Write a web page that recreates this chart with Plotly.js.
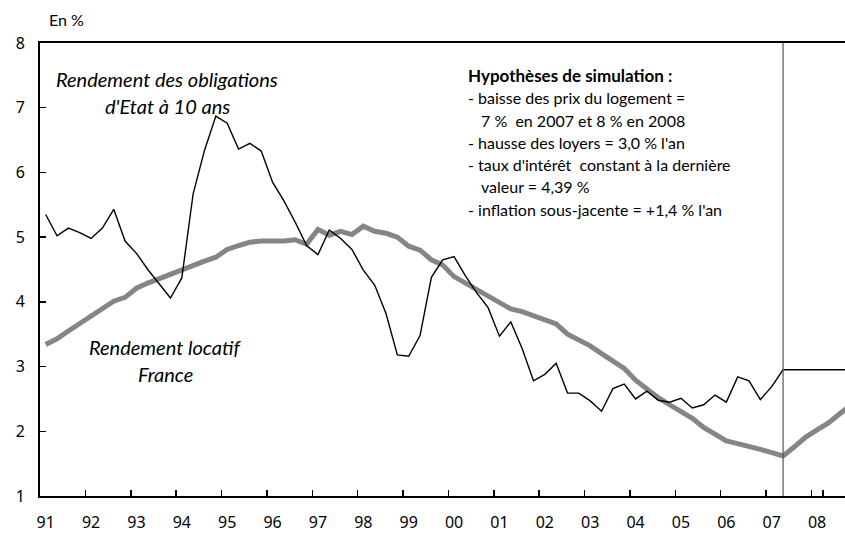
<!DOCTYPE html>
<html>
<head>
<meta charset="utf-8">
<script src="https://cdn.plot.ly/plotly-3.0.1.min.js"></script>
<style>html,body{margin:0;padding:0;background:#fff;}#chart{width:845px;height:533px;}</style>
</head>
<body>
<div id="chart"></div>
<script>
// Years shown on the axis and their tick labels
const years = [1991,1992,1993,1994,1995,1996,1997,1998,1999,2000,2001,2002,2003,2004,2005,2006,2007,2008];
const yearLabels = ["91","92","93","94","95","96","97","98","99","00","01","02","03","04","05","06","07","08"];
const quarterNames = ["T1","T2","T3","T4"];

// Quarterly categories 1991T1 .. 2008T4
const quarters = [];
years.forEach(y => quarterNames.forEach(q => quarters.push(y + q)));

// Rendement des obligations d'Etat à 10 ans (en %), quarterly
const bondYield = [
  5.35, 5.02, 5.14, 5.07,  4.98, 5.14, 5.43, 4.94,  4.75, 4.50, 4.28, 4.06,
  4.37, 5.67, 6.34, 6.87,  6.76, 6.36, 6.45, 6.33,  5.85, 5.56, 5.23, 4.87,
  4.73, 5.11, 4.98, 4.81,  4.49, 4.26, 3.82, 3.18,  3.16, 3.48, 4.38, 4.65,
  4.70, 4.40, 4.14, 3.91,  3.47, 3.69, 3.28, 2.78,  2.88, 3.05, 2.59, 2.59,
  2.47, 2.31, 2.66, 2.73,  2.50, 2.62, 2.48, 2.45,  2.51, 2.36, 2.41, 2.56,
  2.45, 2.84, 2.78, 2.49,  2.69, 2.95, 2.95, 2.95,  2.95, 2.95, 2.95, 2.95
];

// Rendement locatif France (en %), quarterly
const rentalYield = [
  3.34, 3.43, 3.55, 3.67,  3.78, 3.91, 4.01, 4.07,  4.21, 4.29, 4.36, 4.44,
  4.50, 4.56, 4.63, 4.69,  4.81, 4.87, 4.92, 4.94,  4.94, 4.94, 4.96, 4.89,
  5.12, 5.03, 5.09, 5.04,  5.17, 5.09, 5.06, 5.00,  4.86, 4.80, 4.65, 4.57,
  4.39, 4.29, 4.19, 4.10,  3.99, 3.89, 3.85, 3.79,  3.72, 3.66, 3.50, 3.41,
  3.32, 3.20, 3.08, 2.97,  2.79, 2.65, 2.52, 2.41,  2.31, 2.20, 2.06, 1.95,
  1.85, 1.81, 1.77, 1.72,  1.67, 1.62, 1.76, 1.91,  2.02, 2.13, 2.27, 2.41
];

const simulationStart = "2007T2";
const yTicks = [1,2,3,4,5,6,7,8];

const hypTitle = "Hypothèses de simulation :";
const hypLines = [
  "- baisse des prix du logement =",
  "7 %  en 2007 et 8 % en 2008",
  "- hausse des loyers = 3,0 % l'an",
  "- taux d'intérêt  constant à la dernière",
  "valeur = 4,39 %",
  "- inflation sous-jacente = +1,4 % l'an"
];

const Q1s = years.map(y => y + "T1");

// plot area geometry (pixels)
const L = 40, T = 43, B = 37, W = 845, H = 533;
const PW = W - L, PH = H - T - B;
const px = x => (x - L) / PW;
const py = y => (H - B - y) / PH;

const traces = [
  {
    x: quarters, y: rentalYield, type: "scatter", mode: "lines",
    line: {color: "#858585", width: 5}, hoverinfo: "skip", name: "Rendement locatif"
  },
  {
    x: quarters, y: bondYield, type: "scatter", mode: "lines",
    line: {color: "#000000", width: 1.4}, hoverinfo: "skip", name: "Obligations"
  }
];

const FAM = "Lato, 'Open Sans', sans-serif";
function ann(text, x, y, size, anchor) {
  return {text: text, x: px(x), y: py(y), xref: "paper", yref: "paper",
    xanchor: anchor || "center", yanchor: "middle", showarrow: false,
    font: {family: FAM, size: size, color: "#000"}};
}
const annotations = [
  ann("En %", 66, 20, 16),
  ann("<i>Rendement des obligations</i>", 167, 79, 20),
  ann("<i>d'Etat à 10 ans</i>", 167, 106, 20),
  ann("<i>Rendement locatif</i>", 165, 347, 20),
  ann("<i>France</i>", 165, 374, 20),
  ann("<b>" + hypTitle + "</b>", 466, 75, 17, "left")
];
const hypY = [98, 120.5, 142.5, 164.5, 186.5, 209];
const hypX = [466, 479, 466, 466, 479, 466];
hypLines.forEach((t, i) => annotations.push(ann(t, hypX[i], hypY[i], 16, "left")));

const layout = {
  width: W, height: H,
  margin: {l: L, r: 0, t: T, b: B, pad: 0},
  paper_bgcolor: "#fff", plot_bgcolor: "#fff",
  showlegend: false,
  xaxis: {
    type: "category", categoryorder: "array", categoryarray: quarters,
    range: [-0.5, 70.46],
    tickmode: "array", tickvals: Q1s, ticktext: yearLabels, tickangle: 0,
    tickson: "boundaries", ticks: "inside", ticklen: 6, tickwidth: 1.5, tickcolor: "#000",
    showline: true, linewidth: 2, linecolor: "#000", mirror: true,
    showgrid: false, zeroline: false,
    tickfont: {family: "'Noto Sans', 'Open Sans', sans-serif", size: 16, color: "#000"},
    ticklabelstandoff: 11
  },
  yaxis: {
    range: [1, 8], tickmode: "array", tickvals: yTicks, ticktext: yTicks.map(String),
    ticks: "inside", ticklen: 6, tickwidth: 1.5, tickcolor: "#000",
    showline: true, linewidth: 2, linecolor: "#000",
    showgrid: false, zeroline: false,
    tickfont: {family: "'Noto Sans', 'Open Sans', sans-serif", size: 16, color: "#000"},
    ticklabelstandoff: 10
  },
  shapes: [{
    type: "line", xref: "x", yref: "paper",
    x0: quarters.indexOf(simulationStart), x1: quarters.indexOf(simulationStart),
    y0: 0, y1: 1, line: {color: "#555", width: 1.2}
  }],
  annotations: annotations
};

Plotly.newPlot("chart", traces, layout, {displayModeBar: false, staticPlot: true});
</script>
</body>
</html>
